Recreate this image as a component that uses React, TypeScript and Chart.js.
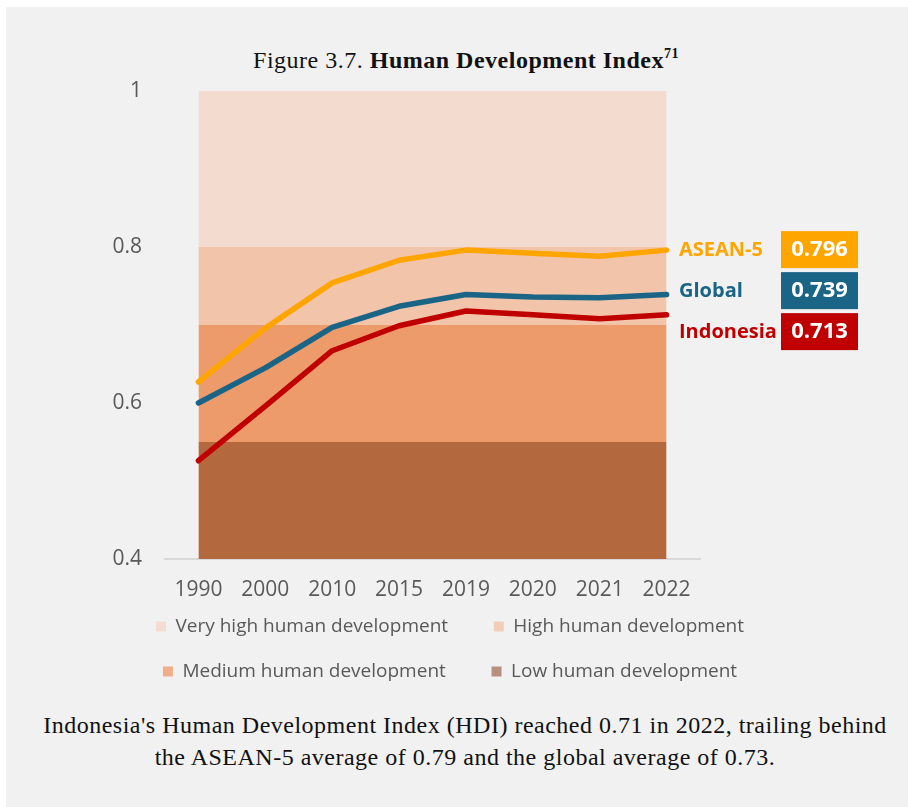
import React, { useEffect, useRef } from 'react';
import { Chart, registerables } from 'chart.js';

Chart.register(...registerables);

const years = ['1990', '2000', '2010', '2015', '2019', '2020', '2021', '2022'];
const aseanValues = [0.627, 0.696, 0.754, 0.783, 0.796, 0.792, 0.788, 0.796];
const globalValues = [0.6, 0.645, 0.697, 0.724, 0.739, 0.736, 0.735, 0.739];
const indonesiaValues = [0.526, 0.596, 0.667, 0.699, 0.718, 0.713, 0.708, 0.713];
const seriesNames = ['ASEAN-5', 'Global', 'Indonesia'];
const latestLabels = ['0.796', '0.739', '0.713'];
const bandNames = ['Low human development', 'Medium human development', 'High human development', 'Very high human development'];
const bandUpper = [0.55, 0.7, 0.8, 1.0];
const yTickValues = [0.4, 0.6, 0.8, 1];
const yTickLabels = ['0.4', '0.6', '0.8', '1'];

const seriesColors = ['#FFA500', '#1A6486', '#C00000'];
const bandColors = ['#B4683D', '#EE9B6C', '#F2C4AA', '#F4DBD0'];
const bandLegendColors = ['#B8907F', '#F0AF8A', '#F2CEB9', '#F4DCD2'];
const SANS = '"Open Sans", Roboto, sans-serif';
const SERIF = '"Liberation Serif", "DejaVu Serif", serif';

const endLabels = {
  id: 'endLabels',
  afterDatasetsDraw(chart: any) {
    const ctx = chart.ctx;
    const ys = chart.scales.y;
    const right = chart.chartArea.right;
    const top0 = ys.getPixelForValue(aseanValues[aseanValues.length - 1]) - 19;
    ctx.save();
    ctx.textBaseline = 'middle';
    seriesNames.forEach((name, i) => {
      const top = top0 + i * 41;
      const cy = top + 19;
      ctx.fillStyle = seriesColors[i];
      ctx.textAlign = 'left';
      ctx.font = `bold 20px ${SANS}`;
      ctx.fillText(name, right - 21, cy);
      ctx.fillRect(right + 81, top, 77, 37);
      ctx.fillStyle = '#FFFFFF';
      ctx.textAlign = 'center';
      ctx.font = `bold 22px ${SANS}`;
      ctx.fillText(latestLabels[i], right + 119.5, cy);
    });
    ctx.restore();
  },
};

function HdiChart() {
  const ref = useRef<HTMLCanvasElement | null>(null);
  useEffect(() => {
    if (!ref.current) return;
    const lineSets = [aseanValues, globalValues, indonesiaValues].map((vals, i) => ({
      type: 'line' as const,
      label: seriesNames[i],
      data: vals,
      borderColor: seriesColors[i],
      backgroundColor: seriesColors[i],
      borderWidth: 5.5,
      borderCapStyle: 'round' as const,
      borderJoinStyle: 'round' as const,
      pointRadius: 0,
      tension: 0,
      fill: false,
    }));
    const bandSets = bandUpper.map((v, i) => ({
      type: 'line' as const,
      label: bandNames[i],
      data: years.map(() => v),
      borderWidth: 0,
      borderColor: 'rgba(0,0,0,0)',
      backgroundColor: bandColors[i],
      pointRadius: 0,
      fill: i === 0 ? 'start' : '-1',
    }));
    const chart = new Chart(ref.current, {
      type: 'line',
      data: { labels: years, datasets: [...lineSets, ...bandSets] as any },
      plugins: [endLabels],
      options: {
        responsive: false,
        animation: false,
        layout: { padding: { left: 0, right: 8, top: 91, bottom: 9 } },
        plugins: {
          tooltip: { enabled: false },
          legend: {
            position: 'bottom',
            labels: {
              font: { family: SANS, size: 19 },
              color: '#595959',
              boxWidth: 10,
              boxHeight: 10,
              padding: 26,
              generateLabels: () =>
                [3, 2, 1, 0].map((bi, k) => ({
                  text: bandNames[bi] + (k % 2 === 0 ? '    ' : ''),
                  fillStyle: bandLegendColors[bi],
                  strokeStyle: 'rgba(0,0,0,0)',
                  lineWidth: 0,
                  hidden: false,
                  datasetIndex: 3 + bi,
                  fontColor: '#595959',
                })),
            },
            onClick: () => {},
          },
        },
        scales: {
          x: {
            offset: true,
            grid: { display: false, drawTicks: false },
            border: { display: true, color: '#D9D9D9', width: 2 },
            ticks: { font: { family: SANS, size: 21 }, color: '#595959', mirror: true, padding: -44, maxRotation: 0 },
            afterFit: (s: any) => { s.height = 32; },
          },
          y: {
            min: 0.4,
            max: 1,
            grid: { display: false, drawTicks: false },
            border: { display: false },
            afterBuildTicks: (s: any) => { s.ticks = yTickValues.map((v) => ({ value: v })); },
            ticks: {
              font: { family: SANS, size: 21 },
              color: '#595959',
              padding: 23,
              callback: (v: any) => yTickLabels[yTickValues.indexOf(Number(v))] ?? '',
            },
            afterFit: (s: any) => { s.width = 165; },
          },
          yRight: {
            type: 'linear',
            position: 'right',
            display: true,
            min: 0.4,
            max: 1,
            grid: { display: false, drawTicks: false },
            border: { display: false },
            ticks: { display: false },
            afterFit: (s: any) => { s.width = 200; },
          },
        },
      },
    });
    return () => chart.destroy();
  }, []);
  return <canvas ref={ref} width={908} height={700} style={{ position: 'absolute', left: 0, top: 0, width: 908, height: 700 }} />;
}

export default function App() {
  return (
    <div style={{ position: 'fixed', left: 0, top: 0, width: 908, height: 807, background: '#FFFFFF', overflow: 'hidden' }}>
      <div style={{ position: 'absolute', left: 6, top: 7, right: 0, bottom: 0, background: '#F1F1F1' }} />
      <div style={{ position: 'absolute', left: 0, top: 45, width: 932, textAlign: 'center', fontFamily: SERIF, fontSize: 24, letterSpacing: 0.5, color: '#111', lineHeight: '30px' }}>
        Figure 3.7. <b>Human Development Index</b><sup style={{ fontSize: 14, fontWeight: 'bold', verticalAlign: 'top', lineHeight: '18px' }}>71</sup>
      </div>
      <HdiChart />
      <div style={{ position: 'absolute', left: 0, top: 709, width: 930, textAlign: 'center', fontFamily: SERIF, fontSize: 24, letterSpacing: 0.5, color: '#111', lineHeight: '32px' }}>
        Indonesia's Human Development Index (HDI) reached 0.71 in 2022, trailing behind
        <br />
        the ASEAN-5 average of 0.79 and the global average of 0.73.
      </div>
    </div>
  );
}
